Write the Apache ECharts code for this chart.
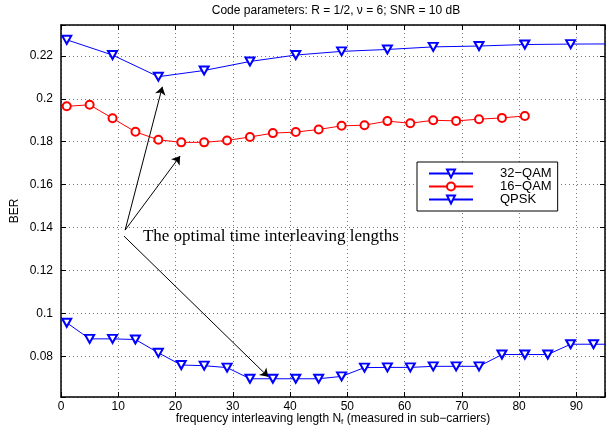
<!DOCTYPE html>
<html>
<head>
<meta charset="utf-8">
<script src="https://cdn.jsdelivr.net/npm/echarts@6/dist/echarts.min.js"></script>
<style>
html,body{margin:0;padding:0;background:#fff;}
#chart{width:616px;height:425px;}
</style>
</head>
<body>
<div id="chart"></div>
<script>
// ---- data ----
const qam32X = [1, 9, 17, 25, 33, 41, 49, 57, 65, 73, 81, 89, 97];
const qam32Y = [0.2275, 0.2204, 0.2103, 0.2132, 0.2174, 0.2204, 0.2221, 0.2230, 0.2242, 0.2246, 0.2253, 0.2255, 0.2256];

const qam16X = [1, 5, 9, 13, 17, 21, 25, 29, 33, 37, 41, 45, 49, 53, 57, 61, 65, 69, 73, 77, 81];
const qam16Y = [0.1965, 0.1972, 0.1909, 0.1846, 0.1809, 0.1797, 0.1797, 0.1806, 0.1822, 0.1840, 0.1845, 0.1857, 0.1874,
                0.1877, 0.1896, 0.1886, 0.1900, 0.1897, 0.1905, 0.1911, 0.1920];

const qpskX = [1, 5, 9, 13, 17, 21, 25, 29, 33, 37, 41, 45, 49, 53, 57, 61, 65, 69, 73, 77, 81, 85, 89, 93, 97];
const qpskY = [0.0956, 0.0881, 0.0881, 0.0878, 0.0816, 0.0759, 0.0756, 0.0747, 0.0695, 0.0695, 0.0695, 0.0695, 0.0706,
               0.0747, 0.0748, 0.0748, 0.0753, 0.0753, 0.0753, 0.0808, 0.0808, 0.0808, 0.0856, 0.0856, 0.0856];

const seriesNames = ['32\u2212QAM', '16\u2212QAM', 'QPSK'];
const xTicks = [0, 10, 20, 30, 40, 50, 60, 70, 80, 90];
const yTicks = [0.08, 0.1, 0.12, 0.14, 0.16, 0.18, 0.2, 0.22];

const titleText = 'Code parameters: R = 1/2, \u03bd = 6; SNR = 10 dB';
const xName = 'frequency interleaving length N{sub|f} (measured in sub\u2212carriers)';
const yName = 'BER';
const noteText = 'The optimal time interleaving lengths';
const noteAt = [14.3, 0.1358];
const arrows = [
  [[11.2, 0.1388], [17.7, 0.2056]],
  [[11.2, 0.1388], [20.8, 0.1733]],
  [[11.0, 0.1360], [36.2, 0.0704]]
];

// ---- chart ----
const pair = (xs, ys) => xs.map((x, i) => [x, ys[i]]);
const isTick = (v, list) => list.some(t => Math.abs(t - v) < 1e-6);

const gridLine = { show: true, lineStyle: { color: '#777', type: [1, 3], width: 1 } };
const axLine = { show: true, onZero: false, lineStyle: { color: '#000', width: 1.5 } };
const tick = { show: true, inside: true, length: 5, lineStyle: { color: '#000', width: 1 } };
const font = 'Liberation Sans';

const xBase = { type: 'value', min: 0, max: 95, interval: 10 };
const yBase = { type: 'value', min: 0.061, max: 0.2344, minInterval: 0.02, maxInterval: 0.02, splitNumber: 9 };

const chart = echarts.init(document.getElementById('chart'), null, { renderer: 'canvas' });
chart.setOption({
  animation: false,
  backgroundColor: '#fff',
  title: {
    text: titleText, left: 336, top: 5, padding: 0, textAlign: 'center',
    textStyle: { fontFamily: font, fontSize: 12, fontWeight: 'normal', color: '#000' }
  },
  grid: { left: 61, right: 11, top: 25, bottom: 28, containLabel: false, outerBoundsMode: 'none' },
  legend: {
    data: seriesNames, orient: 'vertical', left: 417, top: 162,
    padding: [5, 6, 5, 11], itemGap: 0, itemWidth: 44, itemHeight: 10,
    backgroundColor: '#fff', borderColor: '#000', borderWidth: 1,
    textStyle: { fontFamily: font, fontSize: 13, color: '#000', lineHeight: 12.7, padding: [0, 0, 0, 22] },
    selectedMode: false
  },
  xAxis: [
    Object.assign({}, xBase, {
      position: 'bottom', axisLine: axLine, axisTick: tick, splitLine: gridLine,
      axisLabel: { margin: 4, fontFamily: font, fontSize: 12, color: '#000',
        formatter: v => isTick(v, xTicks) ? String(v) : '' },
      name: xName, nameLocation: 'middle', nameGap: 15, nameMoveOverlap: false,
      nameTextStyle: { fontFamily: font, fontSize: 12, color: '#000',
        rich: { sub: { fontFamily: font, fontSize: 8, color: '#000', padding: [6, 0, 0, 0] } } }
    }),
    Object.assign({}, xBase, {
      position: 'top', axisLine: axLine, axisTick: tick, splitLine: { show: false }, axisLabel: { show: false }
    })
  ],
  yAxis: [
    Object.assign({}, yBase, {
      position: 'left', axisLine: axLine, axisTick: tick, splitLine: gridLine,
      axisLabel: { margin: 8, fontFamily: font, fontSize: 12, color: '#000',
        formatter: v => isTick(v, yTicks) ? String(+v.toFixed(2)) : '' },
      name: yName, nameLocation: 'middle', nameGap: 40, nameMoveOverlap: false,
      nameTextStyle: { fontFamily: font, fontSize: 12, color: '#000' }
    }),
    Object.assign({}, yBase, {
      position: 'right', axisLine: axLine, axisTick: tick, splitLine: { show: false }, axisLabel: { show: false }
    })
  ],
  series: [
    {
      name: seriesNames[0], type: 'line', data: pair(qam32X, qam32Y),
      symbol: 'emptyTriangle', symbolRotate: 180, symbolSize: [9, 8],
      lineStyle: { color: '#0000ff', width: 1 }, itemStyle: { color: '#0000ff', borderWidth: 0.8 },
      clip: true, z: 3
    },
    {
      name: seriesNames[1], type: 'line', data: pair(qam16X, qam16Y),
      symbol: 'emptyCircle', symbolSize: 8,
      lineStyle: { color: '#ff0000', width: 1 }, itemStyle: { color: '#ff0000', borderWidth: 0.8 },
      clip: true, z: 3
    },
    {
      name: seriesNames[2], type: 'line', data: pair(qpskX, qpskY),
      symbol: 'emptyTriangle', symbolRotate: 180, symbolSize: [9, 8],
      lineStyle: { color: '#0000ff', width: 1 }, itemStyle: { color: '#0000ff', borderWidth: 0.8 },
      clip: true, z: 3,
      markLine: {
        silent: true, symbol: ['none', 'arrow'], symbolSize: [8, 8], precision: 4,
        lineStyle: { color: '#000', width: 1, type: 'solid' },
        label: { show: false }, emphasis: { disabled: true },
        data: arrows.map(a => [{ coord: a[0] }, { coord: a[1] }])
      },
      markPoint: {
        silent: true,
        data: [{
          coord: noteAt, symbol: 'circle', symbolSize: 0.01,
          itemStyle: { color: 'rgba(0,0,0,0)' },
          label: { show: true, position: 'right', distance: 0, formatter: noteText,
            fontFamily: 'Liberation Serif', fontSize: 17, color: '#000' }
        }]
      }
    }
  ]
});
</script>
</body>
</html>
